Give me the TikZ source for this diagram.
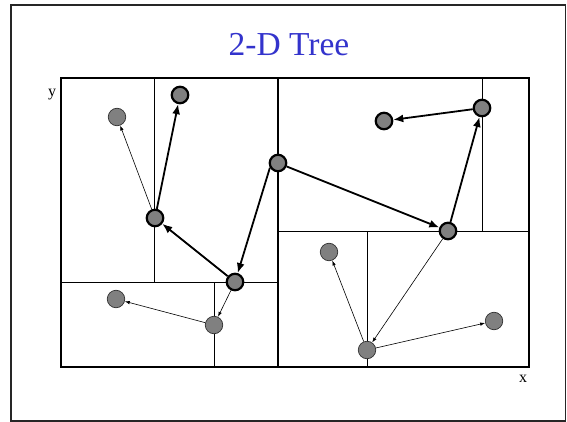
\documentclass[tikz,border=0pt]{standalone}
\usepackage{fontspec}
\setmainfont{Liberation Serif}
\usetikzlibrary{arrows.meta}
\definecolor{titleblue}{RGB}{51,51,204}

\begin{document}
\begin{tikzpicture}[x=1pt,y=-1pt,
    pt/.style={circle,draw=black!80,line width=0.7pt,fill=black!50,minimum size=17.5pt,inner sep=0pt},
    boldpt/.style={pt,draw=black,line width=2.2pt,minimum size=16.5pt},
    thinarrow/.style={-{Latex[length=5pt,width=3.5pt]},line width=0.6pt},
    boldarrow/.style={-{Latex[length=10pt,width=8pt]},line width=1.8pt},
    cut/.style={line width=0.8pt}]
    \useasboundingbox (0,0) rectangle (567,422);
    \draw[line width=1.6pt,black!85] (11,5) rectangle (565.5,421);
    \node[text=titleblue,font=\fontsize{33.5}{38}\selectfont] (title) at (289,45) {2-D Tree};

    % partition of the plane
    \draw[cut] (154,78) -- (154,282);
    \draw[cut] (61,282) -- (278,282);
    \draw[cut] (214,282) -- (214,367);
    \draw[cut] (278,231) -- (529,231);
    \draw[cut] (482,78) -- (482,231);
    \draw[cut] (367,231) -- (367,367);
    \draw[line width=1.6pt] (278,78) -- (278,367);
    \draw[line width=1.6pt] (61,78) rectangle (529,367);
    \node[font=\fontsize{16}{18}\selectfont] (ylab) at (52,95) {y};
    \node[font=\fontsize{16}{18}\selectfont] (xlab) at (523,379) {x};

    % points
    \node[boldpt] (D) at (278,163) {};
    \node[boldpt] (E) at (235,282) {};
    \node[boldpt] (C) at (155,218) {};
    \node[boldpt] (B) at (180,95) {};
    \node[pt] (A) at (117,117) {};
    \node[pt] (J) at (214,325) {};
    \node[pt] (I) at (116,299) {};
    \node[boldpt] (H) at (448,231) {};
    \node[boldpt] (F) at (482,108) {};
    \node[boldpt] (G) at (384,121) {};
    \node[pt] (L) at (367,350) {};
    \node[pt] (K) at (329,252) {};
    \node[pt] (M) at (494,321) {};

    % tree edges
    \draw[boldarrow] (D.210) -- (E);
    \draw[boldarrow] (D) -- (H);
    \draw[boldarrow] (E) -- (C);
    \draw[boldarrow] (C) -- (B);
    \draw[boldarrow] (H) -- (F);
    \draw[boldarrow] (F) -- (G);
    \draw[thinarrow] (C) -- (A);
    \draw[thinarrow] (E) -- (J);
    \draw[thinarrow] (J) -- (I);
    \draw[thinarrow] (H) -- (L);
    \draw[thinarrow] (L) -- (K);
    \draw[thinarrow] (L) -- (M);
\end{tikzpicture}
\end{document}
